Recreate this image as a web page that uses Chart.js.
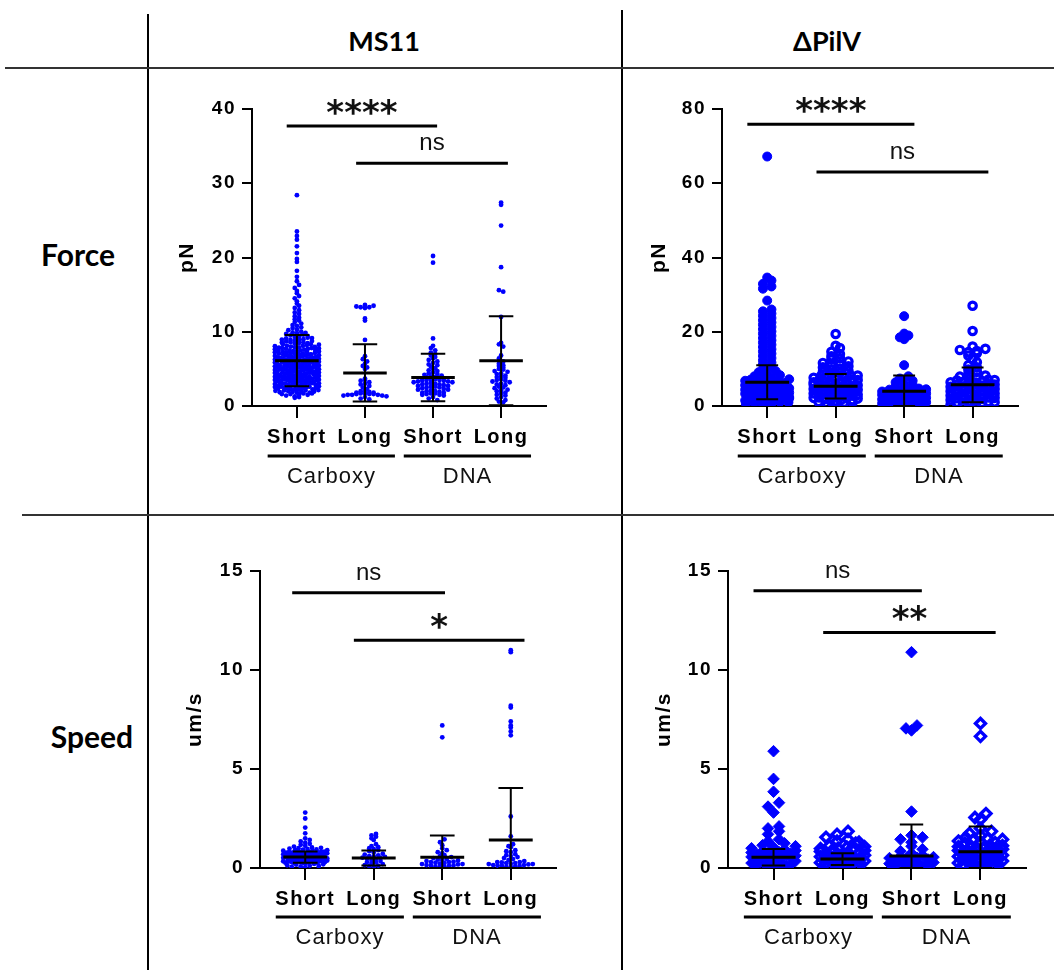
<!DOCTYPE html>
<html><head><meta charset="utf-8">
<script src="https://cdn.jsdelivr.net/npm/chart.js@4/dist/chart.umd.min.js"></script>
<style>
html,body{margin:0;padding:0;background:#fff}
body{width:1054px;height:970px;position:relative;overflow:hidden}
.ln{position:absolute;background:#000}
.hd{position:absolute;font-family:Lato,'Open Sans',sans-serif;font-weight:bold;color:#000;white-space:nowrap;text-align:center}
.cv{position:absolute}
</style></head>
<body>
<div class="ln" style="left:147px;top:14px;width:2px;height:956px"></div>
<div class="ln" style="left:621px;top:10px;width:2px;height:960px"></div>
<div class="ln" style="left:5px;top:67px;width:1049px;height:2px;background:#333"></div>
<div class="ln" style="left:22px;top:514px;width:1032px;height:2px;background:#333"></div>
<div class="hd" style="left:284px;top:26px;width:200px;font-size:27px;line-height:30px">MS11</div>
<div class="hd" style="left:727px;top:26px;width:200px;font-size:27px;line-height:30px">ΔPilV</div>
<div class="hd" style="left:0px;top:234px;width:156px;font-size:30px;line-height:40px">Force</div>
<div class="hd" style="left:14px;top:716px;width:156px;font-size:30px;line-height:40px">Speed</div>
<canvas id="c1" class="cv" style="left:150px;top:80px" width="400" height="420"></canvas>
<canvas id="c2" class="cv" style="left:625px;top:80px" width="400" height="420"></canvas>
<canvas id="c3" class="cv" style="left:150px;top:540px" width="410" height="420"></canvas>
<canvas id="c4" class="cv" style="left:625px;top:540px" width="410" height="420"></canvas>
<script>
// ---------- categories ----------
const categories = ['Short', 'Long', 'Short', 'Long'];
const groupNames = ['Carboxy', 'DNA'];

// ---------- MS11 Force (pN) ----------
const ms11ForceCarboxyShort = [1.1,1.3,1.5,1.6,1.7,1.8,1.9,1.9,
2.0,2.1,2.1,2.2,2.2,2.3,2.3,2.4,2.4,2.5,2.5,2.6,2.6,2.7,2.7,2.8,2.9,2.9,
3.0,3.0,3.1,3.1,3.1,3.2,3.2,3.3,3.3,3.4,3.4,3.4,3.5,3.5,3.6,3.6,3.6,3.7,3.7,3.8,3.8,3.9,3.9,3.9,
4.0,4.0,4.0,4.1,4.1,4.2,4.2,4.2,4.3,4.3,4.4,4.4,4.4,4.5,4.5,4.5,4.6,4.6,4.7,4.7,4.7,4.8,4.8,4.9,4.9,4.9,
5.0,5.0,5.0,5.1,5.1,5.2,5.2,5.2,5.3,5.3,5.4,5.4,5.5,5.5,5.5,5.6,5.6,5.7,5.7,5.7,5.8,5.8,5.9,5.9,5.9,
6.0,6.0,6.1,6.1,6.2,6.2,6.2,6.3,6.3,6.4,6.4,6.5,6.5,6.6,6.6,6.7,6.7,6.8,6.8,6.9,6.9,6.9,
7.0,7.0,7.1,7.1,7.2,7.3,7.3,7.4,7.4,7.5,7.5,7.6,7.7,7.7,7.8,7.8,7.9,7.9,
8.0,8.1,8.1,8.2,8.3,8.3,8.4,8.5,8.6,8.6,8.7,8.8,8.9,8.9,
9.0,9.1,9.2,9.3,9.4,9.5,9.6,9.7,9.8,9.9,
10.0,10.2,10.3,10.5,10.6,10.8,10.9,11.1,11.3,11.5,11.7,11.9,12.1,12.4,12.6,12.9,
13.2,13.5,13.8,14.1,14.5,14.8,15.2,15.5,15.9,16.3,16.8,17.4,18.2,19.4,19.8,20.6,21.5,22.4,22.9,23.5,28.4,
1.2,1.4,1.5,1.6,1.7,1.8,1.85,1.95,2.05,2.15,2.25,2.35,2.45,2.55,2.65,2.75,2.85,2.95,
3.05,3.15,3.2,3.25,3.35,3.45,3.5,3.55,3.65,3.75,3.85,3.95,4.05,4.15,4.2,4.25,4.35,4.45,4.5,4.55,4.65,4.75,4.85,4.95,
5.05,5.15,5.2,5.25,5.35,5.45,5.5,5.55,5.65,5.75,5.85,5.95,6.05,6.15,6.2,6.25,6.35,6.45,6.5,6.55,6.65,6.75,6.85,6.95,
7.05,7.15,7.25,7.35,7.45,7.55,7.65,7.75,7.85,7.95,8.05,8.25,8.45,8.55,8.75,8.95,9.15,9.45,9.85];
const ms11ForceCarboxyLong = [13.2,13.3,13.3,13.4,13.5,13.6,11.5,11.8,8.9,6.7,6.3,6.0,5.7,5.4,5.2,5.0,
3.7,3.5,3.4,3.2,3.0,2.9,2.7,2.5,2.3,2.1,2.0,1.9,1.8,1.8,1.7,1.7,1.6,1.6,1.6,1.5,1.5,1.5,1.4,1.4,1.3,1.2,1.0,0.9];
const ms11ForceDnaShort = [20.2,19.3,9.1,8.1,7.8,7.5,7.2,7.0,6.8,6.6,6.4,6.2,6.0,5.8,5.6,5.5,5.3,5.1,5.0,4.8,4.7,4.5,4.4,4.3,4.2,4.1,
4.0,3.9,3.9,3.8,3.7,3.7,3.6,3.6,3.5,3.5,3.4,3.4,3.3,3.3,3.2,3.2,3.1,3.0,3.0,2.9,2.9,2.8,2.7,2.7,2.6,2.6,2.5,2.5,
2.4,2.3,2.2,2.2,2.1,2.0,2.0,1.9,1.8,1.8,1.7,1.7,1.6,1.5,1.5,1.4,1.2,1.0,0.8];
const ms11ForceDnaLong = [27.4,27.1,24.3,18.7,15.6,15.4,12.0,8.5,8.3,8.0,6.8,6.4,6.0,5.7,5.5,5.4,5.2,5.0,4.9,4.7,4.6,4.4,4.3,4.1,
4.0,3.9,3.8,3.6,3.5,3.4,3.3,3.2,3.0,2.9,2.8,2.6,2.5,2.4,2.2,2.1,2.0,1.8,1.7,1.5,1.4,1.2,1.0,0.8,0.6,0.5];
const ms11ForceMean = [6.1, 4.45, 3.85, 6.1];
const ms11ForceSD = [3.45, 3.85, 3.2, 6.0];

// ---------- ΔPilV Force (pN) ----------
const pilvForceCarboxyShort = [0.4,0.7,0.9,1.1,1.3,1.4,1.6,1.7,1.9,2.0,2.2,2.3,
2.5,2.6,2.8,2.9,3.0,3.1,3.2,3.3,3.4,3.5,3.7,3.8,3.9,4.0,4.1,4.2,4.3,4.5,4.6,4.7,
4.9,5.0,5.1,5.3,5.4,5.5,5.7,5.8,5.9,6.1,6.3,6.5,6.7,6.9,7.1,7.4,7.7,8.0,8.3,8.7,9.1,9.4,9.9,10.4,11.2,11.7,
12.3,12.9,13.5,14.1,14.7,15.3,15.9,16.5,17.1,17.7,18.3,18.9,19.5,20.1,20.7,21.3,21.9,22.5,23.1,23.7,24.3,24.9,25.5,26.0,
28.4,31.6,32.2,32.9,33.8,34.6,67.2,
1.5,2.1,2.7,3.3,3.9,4.4,5.2,5.6,6.2,6.8,7.2,0.6,1.0,2.4,3.6,4.8];
const pilvForceCarboxyLong = [0.3,0.6,0.9,1.1,1.3,1.5,1.7,1.9,2.1,2.3,2.5,2.7,2.9,3.1,3.3,3.35,
3.5,3.7,3.8,4.0,4.2,4.3,4.5,4.7,4.9,5.0,5.2,5.4,5.5,5.7,5.9,6.1,6.3,6.5,6.7,6.9,6.95,
7.1,7.4,7.7,7.9,8.1,8.3,8.6,8.9,9.2,9.5,9.8,10.1,10.4,10.7,11.0,11.3,11.6,12.0,12.5,12.9,13.4,14.0,14.6,15.6,16.2,19.4,
1.0,1.6,2.2,2.8,3.4,4.1,4.6,5.3,5.8,6.4,7.0,7.6,8.2,2.0,3.0,4.4,5.6];
const pilvForceDnaShort = [0.1,0.2,0.3,0.5,0.6,0.8,0.9,1.1,1.3,1.5,1.7,1.9,2.0,2.1,2.3,2.5,2.7,2.9,3.1,3.3,
3.5,3.8,4.0,4.2,4.4,4.7,5.0,5.3,5.6,6.0,6.4,6.8,7.4,8.0,11.0,18.0,18.5,19.0,19.5,24.2,
0.15,0.45,0.7,1.0,1.2,1.4,1.6,1.8,2.2,2.6,3.0,3.4,3.9,4.5];
const pilvForceDnaLong = [0.3,0.5,0.6,0.8,0.9,1.1,1.3,1.5,1.7,1.9,2.1,2.3,2.5,2.7,2.9,3.1,3.3,3.5,
3.7,3.9,4.1,4.3,4.5,4.7,4.9,5.1,5.3,5.5,5.7,5.9,6.1,6.3,6.5,6.7,6.9,7.1,7.3,7.6,7.9,8.2,
8.6,9.2,9.8,10.4,11.0,11.8,12.6,13.6,14.2,14.5,14.8,15.1,15.4,16.0,20.2,27.0,
0.4,1.0,1.6,2.2,2.8,3.4,4.0,4.6,5.2,5.8,6.4,7.0];
const pilvForceMean = [6.4, 5.3, 4.0, 5.7];
const pilvForceSD = [4.6, 3.3, 4.2, 4.7];

// ---------- MS11 Speed (um/s) ----------
const ms11SpeedCarboxyShort = [0.04,0.08,0.12,0.17,0.21,
0.24,0.26,0.28,0.3,0.32,0.34,0.36,0.38,0.4,0.42,0.44,0.45,
0.47,0.49,0.5,0.52,0.54,0.55,0.57,0.58,0.6,0.62,0.63,0.65,0.67,0.68,
0.7,0.72,0.74,0.76,0.78,0.8,0.82,0.84,0.86,0.9,
0.93,0.96,1.0,1.04,1.08,1.12,1.17,1.22,1.28,1.34,1.42,1.5,1.75,2.04,2.5,2.8,
0.06,0.1,0.14,0.19,0.23,0.25,0.27,0.29,0.31,0.33,0.35,0.37,0.39,0.41,0.43,0.26,0.3,0.34,0.38,0.42,
0.46,0.48,0.5,0.51,0.53,0.55,0.56,0.58,0.59,0.61,0.62,0.64,0.47,0.52,0.57,0.6,0.63,0.49,
0.66,0.68,0.7,0.71,0.73,0.75,0.77,0.79,0.81,0.83,0.69,0.74,0.78,0.82,0.87,0.9,0.94,0.98,1.02];
const ms11SpeedCarboxyLong = [0.05,0.1,0.12,0.15,0.2,0.25,0.28,0.3,0.35,0.4,0.44,
0.48,0.5,0.52,0.56,0.58,0.6,0.64,0.68,0.72,0.78,0.85,0.9,0.95,1.0,1.05,1.1,1.2,1.42,1.5,1.58,1.65,1.72];
const ms11SpeedDnaShort = [0.05,0.06,0.08,0.1,0.12,0.13,0.15,0.18,0.2,0.2,0.22,0.25,0.27,0.3,0.3,0.32,0.35,0.38,0.4,0.42,
0.45,0.5,0.55,0.6,0.65,0.75,0.8,0.9,1.0,1.15,1.3,1.45,6.6,7.2];
const ms11SpeedDnaLong = [0.05,0.06,0.08,0.1,0.1,0.12,0.15,0.15,0.18,0.2,0.2,0.22,0.25,0.25,0.28,0.3,0.3,0.35,0.4,0.45,
0.5,0.55,0.6,0.65,0.7,0.8,0.85,0.9,1.05,1.1,1.2,1.6,2.6,6.7,6.9,7.1,7.2,7.4,8.1,8.2,10.9,11.0];
const ms11SpeedMean = [0.55, 0.5, 0.54, 1.41];
const ms11SpeedSD = [0.28, 0.38, 1.1, 2.63];

// ---------- ΔPilV Speed (um/s) ----------
const pilvSpeedCarboxyShort = [0.03,0.08,0.12,0.17,0.22,0.27,0.32,0.38,0.42,0.46,0.5,0.55,0.58,
0.65,0.7,0.75,0.8,0.85,0.95,1.05,1.15,1.25,1.35,1.45,1.7,1.85,2.0,2.1,2.8,3.1,3.3,3.85,4.5,5.9,
0.05,0.1,0.15,0.2,0.25,0.35,0.44,0.52,0.56,0.62,0.68,0.72,0.78,0.88,1.0,1.1];
const pilvSpeedCarboxyLong = [0.05,0.1,0.15,0.2,0.25,0.28,0.32,0.38,0.44,0.5,0.55,0.58,
0.62,0.68,0.74,0.8,0.86,0.95,1.0,1.05,1.12,1.25,1.35,1.45,1.55,1.7,1.85,
0.08,0.12,0.18,0.22,0.27,0.35,0.41,0.47,0.52,0.57,0.65,0.71,0.77,0.83,0.88,0.98,1.08,1.3];
const pilvSpeedDnaShort = [0.02,0.05,0.1,0.15,0.2,0.25,0.32,0.4,0.46,0.52,0.58,0.65,0.75,0.85,
0.95,1.1,1.3,1.45,1.55,1.65,2.85,6.95,7.05,7.2,10.9,
0.08,0.12,0.18,0.22,0.28,0.36,0.43,0.5,0.55];
const pilvSpeedDnaLong = [0.03,0.08,0.13,0.18,0.23,0.28,0.32,0.38,0.4,0.44,0.5,0.56,
0.62,0.68,0.7,0.74,0.8,0.86,0.92,0.98,1.04,1.1,1.16,1.25,1.32,1.4,1.47,1.55,1.65,1.75,1.85,2.0,
2.45,2.55,2.75,6.65,7.3,
0.05,0.1,0.15,0.2,0.25,0.35,0.42,0.47,0.53,0.58,0.65,0.72,0.77,0.83,0.88,0.95,1.02,1.08,1.13,1.28,1.36,1.44];
const pilvSpeedMean = [0.54, 0.45, 0.6, 0.82];
const pilvSpeedSD = [0.42, 0.3, 1.6, 1.27];

// ---------- significance annotations ----------
const ms11ForceSig = [{a:0,b:2,level:37.7,label:'****'},{a:1,b:3,level:32.7,label:'ns'}];
const pilvForceSig = [{a:0,b:2,level:75.9,label:'****'},{a:1,b:3,level:63.0,label:'ns'}];
const ms11SpeedSig = [{a:0,b:2,level:13.9,label:'ns'},{a:1,b:3,level:11.5,label:'*'}];
const pilvSpeedSig = [{a:0,b:2,level:14.0,label:'ns'},{a:1,b:3,level:11.9,label:'**'}];

// ---------- styling / layout ----------
const BLUE = '#0000ff';
const dot = {style:'circle', r:2.4, bw:0, open:false};
const cFill = {style:'circle', r:4.5, bw:1, open:false};
const cOpen = {style:'circle', r:3.7, bw:3.2, open:true};
const dFill = {style:'rectRot', r:5.8, bw:1, open:false};
const dOpen = {style:'rectRot', r:5.0, bw:3.4, open:true};

const CFG = {};

const annot = {
  id: 'annot',
  beforeDraw(chart){ chart.ctx.letterSpacing = '1.5px'; },
  afterDatasetsDraw(chart){
    const c = CFG[chart.canvas.id]; if (!c) return;
    const ctx = chart.ctx, xs = chart.scales.x, ys = chart.scales.y;
    const ppx = xs.getPixelForValue(1) - xs.getPixelForValue(0);
    ctx.save();
    ctx.strokeStyle = '#000'; ctx.lineCap = 'butt';
    c.mean.forEach((m, i) => {
      const x = xs.getPixelForValue(i);
      const yM = ys.getPixelForValue(m);
      const yH = ys.getPixelForValue(m + c.sd[i]);
      const yL = ys.getPixelForValue(Math.max(ys.min, m - c.sd[i]));
      const cap = c.capHalf * ppx, mh = c.meanHalf * ppx;
      ctx.lineWidth = 2;
      ctx.beginPath();
      ctx.moveTo(x, yH); ctx.lineTo(x, yL);
      ctx.moveTo(x - cap, yH); ctx.lineTo(x + cap, yH);
      ctx.moveTo(x - cap, yL); ctx.lineTo(x + cap, yL);
      ctx.stroke();
      ctx.lineWidth = 3;
      ctx.beginPath(); ctx.moveTo(x - mh, yM); ctx.lineTo(x + mh, yM); ctx.stroke();
    });
    ctx.restore();
  },
  afterDraw(chart){
    const c = CFG[chart.canvas.id]; if (!c) return;
    const ctx = chart.ctx, xs = chart.scales.x, ys = chart.scales.y;
    ctx.save();
    c.sig.forEach((s, k) => {
      const x1 = xs.getPixelForValue(s.a + c.sigPad[k][0]);
      const x2 = xs.getPixelForValue(s.b + c.sigPad[k][1]);
      const y = ys.getPixelForValue(s.level);
      ctx.strokeStyle = '#000'; ctx.lineWidth = 3;
      ctx.beginPath(); ctx.moveTo(x1, y); ctx.lineTo(x2, y); ctx.stroke();
      ctx.fillStyle = '#111'; ctx.textAlign = 'center'; ctx.textBaseline = 'alphabetic';
      ctx.letterSpacing = '0px';
      if (s.label === 'ns') {
        ctx.font = '24px "Liberation Sans", Arial, sans-serif';
        ctx.fillText(s.label, (x1 + x2) / 2, y - 13);
      } else {
        ctx.font = 'bold 34px "DejaVu Sans", sans-serif';
        ctx.fillText(s.label, (x1 + x2) / 2, y - 2.5);
      }
    });
    const yb = ys.getPixelForValue(0);
    ctx.letterSpacing = '1px';
    groupNames.forEach((g, k) => {
      const i0 = 2 * k, i1 = 2 * k + 1;
      const x1 = xs.getPixelForValue(i0 - 0.43), x2 = xs.getPixelForValue(i1 + 0.44);
      ctx.strokeStyle = '#000'; ctx.lineWidth = 3;
      ctx.beginPath(); ctx.moveTo(x1, yb + c.lineOff); ctx.lineTo(x2, yb + c.lineOff); ctx.stroke();
      ctx.fillStyle = '#111';
      ctx.font = '22px "Liberation Sans", Arial, sans-serif';
      ctx.textAlign = 'center'; ctx.textBaseline = 'middle';
      const xm = (xs.getPixelForValue(i0) + xs.getPixelForValue(i1)) / 2;
      ctx.fillText(g, xm + 0.5, yb + c.lineOff + 21);
    });
    ctx.restore();
  }
};

function swarm(chart, c){
  const xs = chart.scales.x, ys = chart.scales.y;
  const ppx = xs.getPixelForValue(1) - xs.getPixelForValue(0);
  c.groups.forEach((vals, gi) => {
    const rows = new Map();
    vals.forEach((v, k) => {
      const r = Math.round(ys.getPixelForValue(v) / c.binH);
      if (!rows.has(r)) rows.set(r, []);
      rows.get(r).push(k);
    });
    const xo = new Array(vals.length);
    rows.forEach(idx => {
      const n = idx.length;
      const s = n > 1 ? Math.min(c.spacing, 2 * c.halfW / (n - 1)) : 0;
      const slots = [];
      for (let j = 0; j < n; j++) slots.push((j - (n - 1) / 2) * s);
      slots.sort((a, b) => Math.abs(a) - Math.abs(b) || a - b);
      idx.forEach((k, j) => { xo[k] = gi + slots[j] / ppx; });
    });
    chart.data.datasets[gi].data = vals.map((v, k) => ({x: xo[k], y: v}));
  });
  chart.update('none');
}

function makeChart(c){
  CFG[c.id] = c;
  const datasets = c.groups.map((vals, i) => {
    const st = c.styles[i];
    return {
      data: vals.map(v => ({x: i, y: v})),
      pointStyle: st.style, pointRadius: st.r, pointBorderWidth: st.bw,
      pointBackgroundColor: st.open ? 'rgba(0,0,255,0)' : BLUE,
      pointBorderColor: BLUE, showLine: false
    };
  });
  const tickFont = {family: '"Liberation Sans", Arial, sans-serif', size: 19, weight: 'bold'};
  const chart = new Chart(document.getElementById(c.id), {
    type: 'scatter',
    data: {datasets},
    options: {
      animation: false, responsive: false, events: [],
      layout: {padding: {top: c.padTop, right: c.padRight, left: 0, bottom: 0}},
      plugins: {legend: {display: false}, tooltip: {enabled: false}},
      scales: {
        x: {
          type: 'linear', min: -0.66, max: 3.66,
          afterBuildTicks: s => { s.ticks = categories.map((t, i) => ({value: i})); },
          afterFit: s => { s.height = c.xh; },
          ticks: {callback: v => categories[v], color: '#000', padding: 7, maxRotation: 0, autoSkip: false,
                  font: {family: '"Liberation Sans", Arial, sans-serif', size: 20, weight: 'bold'}},
          grid: {drawOnChartArea: false, drawTicks: true, tickLength: 12, color: '#000', lineWidth: 2},
          border: {display: true, color: '#000', width: 2}
        },
        y: {
          min: 0, max: c.ymax,
          afterFit: s => { s.width = c.yw; },
          ticks: {stepSize: c.step, color: '#000', padding: 6, font: tickFont},
          grid: {drawOnChartArea: false, drawTicks: true, tickLength: 10, color: '#000', lineWidth: 2},
          border: {display: true, color: '#000', width: 2},
          title: {display: true, text: c.title, color: '#000', padding: {top: c.titlePad, bottom: 0},
                  font: {family: '"Liberation Sans", Arial, sans-serif', size: 21, weight: 'bold'}}
        }
      }
    },
    plugins: [annot]
  });
  swarm(chart, c);
  return chart;
}

makeChart({id:'c1', groups:[ms11ForceCarboxyShort, ms11ForceCarboxyLong, ms11ForceDnaShort, ms11ForceDnaLong],
  mean: ms11ForceMean, sd: ms11ForceSD, sig: ms11ForceSig, sigPad: [[-0.15,0.06],[-0.13,0.1]],
  styles:[dot,dot,dot,dot], ymax:40, step:10, title:'pN',
  yw:102, xh:94, padTop:29, padRight:2, titlePad:25, lineOff:50,
  binH:3.5, spacing:4.3, halfW:22, meanHalf:0.32, capHalf:0.18});
makeChart({id:'c2', groups:[pilvForceCarboxyShort, pilvForceCarboxyLong, pilvForceDnaShort, pilvForceDnaLong],
  mean: pilvForceMean, sd: pilvForceSD, sig: pilvForceSig, sigPad: [[-0.29,0.15],[-0.28,0.23]],
  styles:[cFill,cOpen,cFill,cOpen], ymax:80, step:20, title:'pN',
  yw:97, xh:94, padTop:29, padRight:5, titlePad:22, lineOff:50,
  binH:4.5, spacing:8.5, halfW:22, meanHalf:0.32, capHalf:0.16});
makeChart({id:'c3', groups:[ms11SpeedCarboxyShort, ms11SpeedCarboxyLong, ms11SpeedDnaShort, ms11SpeedDnaLong],
  mean: ms11SpeedMean, sd: ms11SpeedSD, sig: ms11SpeedSig, sigPad: [[-0.19,0.04],[-0.29,0.2]],
  styles:[dot,dot,dot,dot], ymax:15, step:5, title:'um/s',
  yw:110, xh:92, padTop:31, padRight:4, titlePad:33, lineOff:49,
  binH:3.5, spacing:4.5, halfW:22, meanHalf:0.32, capHalf:0.18});
makeChart({id:'c4', groups:[pilvSpeedCarboxyShort, pilvSpeedCarboxyLong, pilvSpeedDnaShort, pilvSpeedDnaLong],
  mean: pilvSpeedMean, sd: pilvSpeedSD, sig: pilvSpeedSig, sigPad: [[-0.29,0.15],[-0.28,0.22]],
  styles:[dFill,dOpen,dFill,dOpen], ymax:15, step:5, title:'um/s',
  yw:103, xh:92, padTop:31, padRight:9, titlePad:27, lineOff:49,
  binH:6, spacing:11, halfW:22, meanHalf:0.32, capHalf:0.17});
</script>
</body></html>
